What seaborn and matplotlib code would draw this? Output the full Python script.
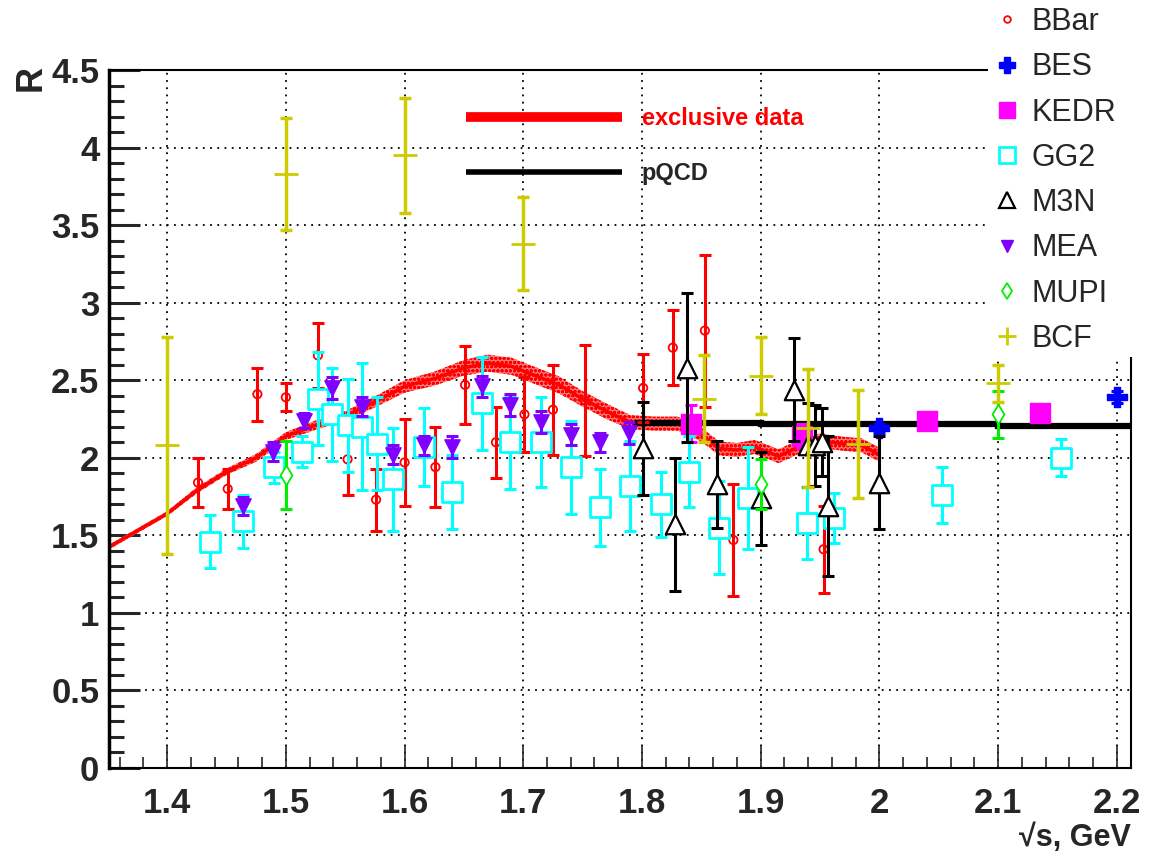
import matplotlib
matplotlib.use('Agg')
import matplotlib.pyplot as plt
from matplotlib.lines import Line2D
from matplotlib.patches import Rectangle
from matplotlib.ticker import MultipleLocator
import seaborn as sns
import pandas as pd

sns.set_theme(style="white")
plt.rcParams['font.family'] = ['Liberation Sans', 'DejaVu Sans']
plt.rcParams['hatch.linewidth'] = 1.0

# exclusive data band (center and half width)
excl_x = [1.350, 1.375, 1.400, 1.425, 1.450, 1.475, 1.500, 1.525, 1.550, 1.575,
          1.600, 1.625, 1.650, 1.670, 1.690, 1.710, 1.730, 1.750, 1.770, 1.790,
          1.810, 1.830, 1.850, 1.865, 1.880, 1.895, 1.915, 1.935, 1.950, 1.970,
          1.985, 2.000]
excl_y = [1.42, 1.53, 1.64, 1.79, 1.91, 2.00, 2.14, 2.21, 2.27, 2.36,
          2.46, 2.51, 2.58, 2.61, 2.59, 2.53, 2.47, 2.38, 2.30, 2.23,
          2.22, 2.22, 2.15, 2.06, 2.05, 2.07, 2.01, 2.08, 2.11, 2.09,
          2.08, 2.02]
excl_err = [0.015, 0.015, 0.015, 0.02, 0.02, 0.025, 0.025, 0.03, 0.03, 0.035,
            0.04, 0.045, 0.05, 0.055, 0.055, 0.055, 0.055, 0.05, 0.05, 0.045,
            0.045, 0.045, 0.045, 0.045, 0.045, 0.045, 0.045, 0.045, 0.045, 0.045,
            0.045, 0.045]

pqcd_x = [1.795, 1.900, 1.900, 2.100, 2.100, 2.212]
pqcd_y = [2.225, 2.225, 2.215, 2.215, 2.205, 2.205]

bbar_x = [1.426, 1.451, 1.476, 1.500, 1.527, 1.552, 1.576, 1.600, 1.626, 1.651,
          1.677, 1.701, 1.725, 1.752, 1.801, 1.826, 1.853, 1.877, 1.953]
bbar_y = [1.84, 1.80, 2.41, 2.39, 2.66, 1.99, 1.73, 1.97, 1.94, 2.47,
          2.10, 2.28, 2.31, 2.37, 2.45, 2.71, 2.82, 1.47, 1.41]
bbar_e = [0.16, 0.13, 0.17, 0.09, 0.21, 0.23, 0.20, 0.28, 0.26, 0.25,
          0.23, 0.24, 0.29, 0.36, 0.22, 0.24, 0.49, 0.36, 0.28]

bes_x = [2.000, 2.200]
bes_y = [2.19, 2.39]
bes_e = [0.03, 0.04]

kedr_x = [1.841, 1.935, 2.040, 2.135]
kedr_y = [2.22, 2.14, 2.24, 2.29]
kedr_e = [0.12, 0.08, 0.04, 0.05]

gg2_x = [1.436, 1.464, 1.490, 1.514, 1.527, 1.539, 1.552, 1.564, 1.577, 1.590,
         1.616, 1.640, 1.665, 1.689, 1.715, 1.740, 1.765, 1.790, 1.816, 1.840,
         1.865, 1.889, 1.939, 1.962, 2.053, 2.153]
gg2_y = [1.46, 1.59, 1.94, 2.04, 2.38, 2.28, 2.21, 2.20, 2.09, 1.86,
         2.07, 1.78, 2.35, 2.10, 2.10, 1.94, 1.68, 1.82, 1.70, 1.91,
         1.55, 1.74, 1.58, 1.61, 1.76, 2.00]
gg2_e = [0.17, 0.17, 0.10, 0.10, 0.30, 0.30, 0.30, 0.41, 0.30, 0.33,
         0.25, 0.24, 0.30, 0.30, 0.29, 0.30, 0.25, 0.29, 0.21, 0.23,
         0.30, 0.33, 0.23, 0.16, 0.18, 0.12]

m3n_x = [1.801, 1.828, 1.838, 1.863, 1.900, 1.928, 1.940, 1.946, 1.952, 1.957, 2.000]
m3n_y = [2.06, 1.57, 2.58, 1.83, 1.74, 2.44, 2.08, 2.08, 2.10, 1.69, 1.84]
m3n_e = [0.30, 0.43, 0.48, 0.28, 0.30, 0.33, 0.27, 0.26, 0.22, 0.45, 0.30]

mea_x = [1.464, 1.489, 1.515, 1.539, 1.564, 1.590, 1.616, 1.640, 1.665, 1.689,
         1.715, 1.740, 1.765, 1.789]
mea_y = [1.69, 2.04, 2.24, 2.45, 2.33, 2.02, 2.08, 2.07, 2.46, 2.34,
         2.23, 2.15, 2.10, 2.16]
mea_e = [0.06, 0.06, 0.05, 0.07, 0.06, 0.06, 0.06, 0.07, 0.07, 0.07,
         0.07, 0.07, 0.06, 0.07]

mupi_x = [1.500, 1.900, 2.100]
mupi_y = [1.89, 1.83, 2.28]
mupi_e = [0.22, 0.16, 0.15]

bcf_x = [1.400, 1.500, 1.600, 1.700, 1.852, 1.900, 1.940, 1.982, 2.100]
bcf_y = [2.08, 3.83, 3.95, 3.38, 2.38, 2.53, 2.19, 2.09, 2.48]
bcf_e = [0.70, 0.36, 0.37, 0.30, 0.28, 0.25, 0.38, 0.35, 0.12]

YEL = '#cccc00'
PURP = '#8000ff'

fig = plt.figure(figsize=(11.51, 8.55), dpi=100)
fig.patch.set_facecolor('white')
ax = fig.add_axes([109/1151, 1-768/855, (1131-109)/1151, (768-70)/855])

# band
lo = [c - e for c, e in zip(excl_y, excl_err)]
hi = [c + e for c, e in zip(excl_y, excl_err)]
ax.fill_between(excl_x, lo, hi, facecolor='#ff7a7a', edgecolor='red',
                hatch='oooo', linewidth=0, zorder=2)
sns.lineplot(x=excl_x, y=excl_y, color='red', lw=2.5, ax=ax, zorder=2.1)

# pQCD
ax.plot(pqcd_x, pqcd_y, color='black', lw=4.5, zorder=2.5,
        solid_joinstyle='miter')

sets = [
    ('BBar', bbar_x, bbar_y, bbar_e, 'red', 'o', 6, 'none', 1.3, 2.2),
    ('BES', bes_x, bes_y, bes_e, 'blue', 'P', 14, 'blue', 1, 2.2),
    ('KEDR', kedr_x, kedr_y, kedr_e, 'magenta', 's', 14, 'magenta', 1, 2.2),
    ('GG2', gg2_x, gg2_y, gg2_e, 'cyan', 's', 15, 'white', 2.0, 2.2),
    ('M3N', m3n_x, m3n_y, m3n_e, 'black', '^', 14, 'white', 1.6, 2.2),
    ('MEA', mea_x, mea_y, mea_e, PURP, 'v', 11, PURP, 1, 2.2),
    ('MUPI', mupi_x, mupi_y, mupi_e, '#00ee00', 'd', 10, 'white', 1.3, 2.2),
    ('BCF', bcf_x, bcf_y, bcf_e, YEL, '+', 17, YEL, 2.0, 2.5),
]

handles = []
for i, (name, xs, ys, es, col, mk, ms, fc, mew, elw) in enumerate(sets):
    ax.errorbar(xs, ys, yerr=es, fmt='none', ecolor=col, elinewidth=elw,
                capsize=4, capthick=elw, zorder=3 + i * 0.1)
    df = pd.DataFrame({'x': xs, 'y': ys})
    sns.scatterplot(data=df, x='x', y='y', marker=mk, s=ms ** 2,
                    facecolor=fc if mk != '+' else col, edgecolor=col,
                    linewidth=mew, ax=ax, zorder=3.05 + i * 0.1)
    handles.append(Line2D([], [], ls='none', marker=mk, color=col,
                          markerfacecolor=fc if fc != 'white' else 'none',
                          markeredgecolor=col, markersize=ms * 0.8,
                          markeredgewidth=mew, label=name))

ax.set_xlim(1.351, 2.212)
ax.set_ylim(0, 4.5)
ax.xaxis.set_major_locator(MultipleLocator(0.1))
ax.xaxis.set_minor_locator(MultipleLocator(0.02))
ax.yaxis.set_major_locator(MultipleLocator(0.5))
ax.yaxis.set_minor_locator(MultipleLocator(0.1))
ax.set_xticks([1.4, 1.5, 1.6, 1.7, 1.8, 1.9, 2.0, 2.1, 2.2])
ax.set_xticklabels(['1.4', '1.5', '1.6', '1.7', '1.8', '1.9', '2', '2.1', '2.2'])
ax.set_yticks([0, 0.5, 1, 1.5, 2, 2.5, 3, 3.5, 4, 4.5])
ax.set_yticklabels(['0', '0.5', '1', '1.5', '2', '2.5', '3', '3.5', '4', '4.5'])

ax.grid(True, which='major', color='black', linestyle=(0, (1, 3)), lw=1.3)
ax.tick_params(axis='y', which='major', direction='in', length=22, width=2.2,
               labelsize=25, pad=7, left=True, right=False)
ax.tick_params(axis='y', which='minor', direction='in', length=11, width=2.2,
               left=True, right=False)
ax.tick_params(axis='x', which='major', direction='in', length=16, width=1.2,
               labelsize=25, pad=14, bottom=True, top=False)
ax.tick_params(axis='x', which='minor', direction='in', length=8, width=1.2,
               bottom=True, top=False)
for lab in ax.get_xticklabels() + ax.get_yticklabels():
    lab.set_fontweight('bold')

ax.spines['left'].set_linewidth(2.5)
ax.spines['bottom'].set_linewidth(1.5)
ax.spines['top'].set_linewidth(1.5)
ax.spines['right'].set_linewidth(1.5)
for s in ax.spines.values():
    s.set_color('black')
    s.set_zorder(6)

ax.set_xlabel('√s, GeV', loc='right', fontsize=22, fontweight='bold', labelpad=2)
ax.set_ylabel('')
fig.text(31/1151, 1-78/855, 'R', rotation=90, ha='center', va='center',
         fontsize=26, fontweight='bold')

# inner legend for the curves
h_excl = Line2D([], [], color='red', lw=7, solid_capstyle='butt')
h_pqcd = Line2D([], [], color='black', lw=4, solid_capstyle='butt')
leg2 = ax.legend([h_excl, h_pqcd], ['exclusive data', 'pQCD'],
                 loc='upper left', bbox_to_anchor=(466/1151, 1-107/855),
                 bbox_transform=fig.transFigure, frameon=False,
                 prop={'size': 17, 'weight': 'bold'}, handlelength=6.6,
                 handletextpad=0.85, labelspacing=1.35, borderpad=0,
                 borderaxespad=0)
leg2.get_texts()[0].set_color('red')

# white box holding the legend, covering the frame corner
fig.patches.append(Rectangle((988/1151, 1-357/855), 1, 1,
                             transform=fig.transFigure, facecolor='white',
                             edgecolor='none', zorder=4))
fig.legend(handles=handles, loc='upper left',
           bbox_to_anchor=(992/1151, 1-7/855), frameon=False, fontsize=22,
           handlelength=1.0, handletextpad=0.3, labelspacing=0.5,
           borderpad=0, borderaxespad=0)

fig.savefig('out.png', dpi=100, facecolor='white')
